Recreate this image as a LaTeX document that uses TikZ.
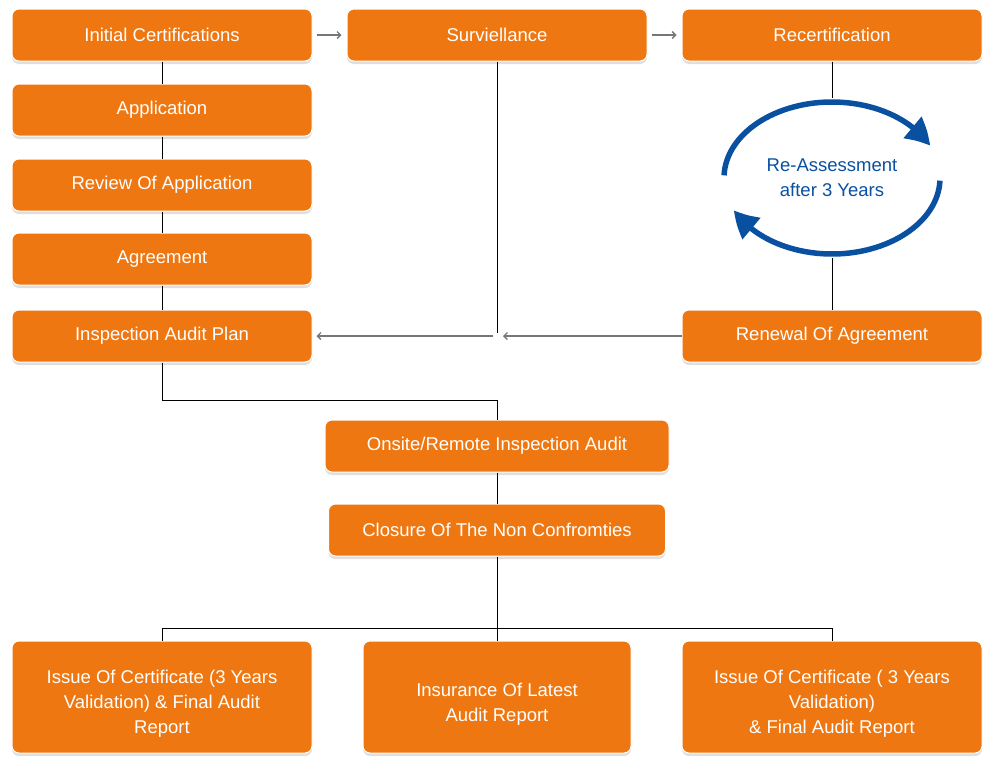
\documentclass[tikz,border=0pt]{standalone}
\usepackage{fontspec}
\setmainfont{Liberation Sans}
\usetikzlibrary{arrows.meta,bending,shadows}

\definecolor{boxorange}{HTML}{EE7711}
\definecolor{cycleblue}{HTML}{0A50A1}
\definecolor{flowgray}{HTML}{777777}

\newcommand{\toppad}{\rule{0pt}{27pt}}

\tikzset{
  stagebox/.style={fill=boxorange, draw=white, line width=1pt, rounded corners=7pt,
    text=white, align=center, minimum height=52pt, minimum width=300pt, inner sep=0pt,
    font=\fontsize{18.5}{25}\selectfont,
    drop shadow={shadow xshift=0pt, shadow yshift=-3pt, opacity=0.25, fill=black!50}},
  resultbox/.style={stagebox, minimum height=112pt},
  link/.style={draw=black, line width=0.9pt},
  flow/.style={draw=flowgray, line width=1.3pt, -{Straight Barb[length=3.5pt,width=7pt]}},
  cyclearrow/.style={draw=cycleblue, line width=5.5pt, -{Triangle[length=25pt,width=27pt,bend]}}
}

\begin{document}
\begin{tikzpicture}[x=1pt,y=-1pt]
    \useasboundingbox (0,0) rectangle (994,769);
    \node[stagebox] (init) at (162,35) {Initial Certifications};
    \node[stagebox] (surv) at (497,35) {Surviellance};
    \node[stagebox] (recert) at (832,35) {Recertification};
    \node[stagebox] (appl) at (162,110) {Application};
    \node[stagebox] (review) at (162,185) {Review Of Application};
    \node[stagebox] (agree) at (162,259) {Agreement};
    \node[stagebox] (plan) at (162,336) {Inspection Audit Plan};
    \node[stagebox] (renew) at (832,336) {Renewal Of Agreement};
    \node[stagebox, minimum width=344pt] (onsite) at (497,446) {Onsite/Remote Inspection Audit};
    \node[stagebox, minimum width=337pt] (closure) at (497,530) {Closure Of The Non Confromties};
    \node[resultbox] (issueA) at (162,697) {\toppad Issue Of Certificate (3 Years\\Validation) \& Final Audit\\Report};
    \node[resultbox, minimum width=268pt] (latest) at (497,697) {\toppad Insurance Of Latest\\Audit Report};
    \node[resultbox] (issueB) at (832,697) {\toppad Issue Of Certificate ( 3 Years\\Validation)\\\& Final Audit Report};
    \coordinate (cyc) at (832,178);
    \coordinate (cyctop) at (832,98);
    \coordinate (cycbot) at (832,258);
    \coordinate (meet) at (497,336);
    \coordinate (bus) at (497,628);
    \draw[flow] (init.east) ++(4,0) -- ([xshift=-5pt]surv.west);
    \draw[flow] (surv.east) ++(4,0) -- ([xshift=-5pt]recert.west);
    \draw[link] (init) -- (appl);
    \draw[link] (appl) -- (review);
    \draw[link] (review) -- (agree);
    \draw[link] (agree) -- (plan);
    \draw[link] (surv.south) -- ([yshift=3pt]meet);
    \draw[link] (recert.south) -- (cyctop);
    \draw[link] (cycbot) -- (renew.north);
    \draw[flow] (renew.west) -- ([xshift=6pt]meet);
    \draw[flow, shorten >=4pt] ([xshift=-4pt]meet) -- (plan.east);
    \draw[cyclearrow] (cyc) ++(182:108 and 76) arc[start angle=182, end angle=335, x radius=108, y radius=76];
    \draw[cyclearrow] (cyc) ++(2:108 and 76) arc[start angle=2, end angle=155, x radius=108, y radius=76];
    \node[text=cycleblue, align=center, font=\fontsize{18.5}{25}\selectfont] (cyctext) at (cyc) {Re-Assessment\\after 3 Years};
    \draw[link] (plan.south) -- ++(0,38) -| (onsite.north);
    \draw[link] (onsite) -- (closure);
    \draw[link] (closure.south) -- (bus);
    \draw[link] (issueA.north) |- (bus);
    \draw[link] (issueB.north) |- (bus);
    \draw[link] (bus) -- (latest.north);
\end{tikzpicture}
\end{document}
